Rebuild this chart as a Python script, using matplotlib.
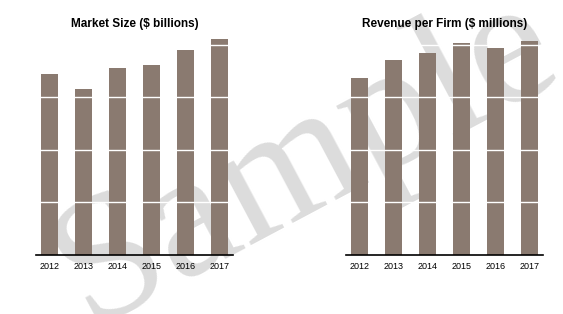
import matplotlib
matplotlib.use("Agg")
import matplotlib.pyplot as plt
import numpy as np

years = ["2012", "2013", "2014", "2015", "2016", "2017"]
market_size = [3.44, 3.16, 3.56, 3.61, 3.90, 4.11]
revenue_per_firm = [3.37, 3.71, 3.84, 4.03, 3.94, 4.07]
grid_levels = [1, 2, 3, 4]

bar_color = "#8a7a70"

fig = plt.figure(figsize=(5.63, 3.14), dpi=100)
fig.patch.set_facecolor("white")

# watermark behind everything
fig.text(0.545, 0.49, "Sample", rotation=28, fontsize=130,
         family="Liberation Serif", color="#dcdcdc",
         ha="center", va="center", zorder=-1)

W, H = 563.0, 314.0
panels = [
    (36, "Market Size ($ billions)", market_size),
    (346, "Revenue per Firm ($ millions)", revenue_per_firm),
]

x = np.arange(len(years))
for left_px, title, vals in panels:
    ax = fig.add_axes([left_px / W, 59 / H, 197 / W, 225 / H])
    ax.patch.set_visible(False)
    ax.bar(x, vals, width=0.5, color=bar_color, zorder=2)
    for g in grid_levels:
        ax.axhline(g, color="white", lw=1.0, zorder=3)
    ax.set_xlim(-0.39, 5.40)
    ax.set_ylim(0, 225 / 52.6)
    for s in ["top", "right", "left"]:
        ax.spines[s].set_visible(False)
    ax.spines["bottom"].set_linewidth(1.2)
    ax.spines["bottom"].set_zorder(4)
    ax.set_yticks([])
    ax.set_xticks(x)
    ax.set_xticklabels(years, fontsize=6.5, family="Liberation Sans")
    ax.tick_params(axis="x", length=0, pad=5)
    ax.set_title(title, fontsize=8.5, fontweight="bold",
                 family="Liberation Sans", pad=1)

fig.savefig("out.png", dpi=100)
